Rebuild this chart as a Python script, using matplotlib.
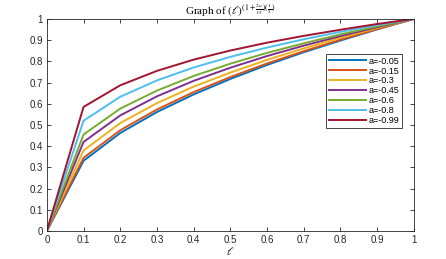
import matplotlib
matplotlib.use('Agg')
import matplotlib.pyplot as plt
import numpy as np

plt.rcParams['mathtext.fontset'] = 'stix'
plt.rcParams['font.family'] = 'Liberation Sans'

x = [0, 0.1, 0.2, 0.3, 0.4, 0.5, 0.6, 0.7, 0.8, 0.9, 1.0]
labels = ['a=-0.05', 'a=-0.15', 'a=-0.3', 'a=-0.45', 'a=-0.6', 'a=-0.8', 'a=-0.99']
y_005 = [0, 0.331, 0.462, 0.561, 0.644, 0.717, 0.783, 0.843, 0.898, 0.951, 1]
y_015 = [0, 0.345, 0.475, 0.573, 0.655, 0.726, 0.790, 0.848, 0.902, 0.952, 1]
y_030 = [0, 0.380, 0.509, 0.603, 0.681, 0.747, 0.807, 0.861, 0.911, 0.957, 1]
y_045 = [0, 0.420, 0.545, 0.635, 0.708, 0.770, 0.825, 0.874, 0.919, 0.961, 1]
y_060 = [0, 0.455, 0.577, 0.662, 0.731, 0.789, 0.840, 0.885, 0.927, 0.965, 1]
y_080 = [0, 0.520, 0.633, 0.710, 0.771, 0.821, 0.865, 0.904, 0.939, 0.971, 1]
y_099 = [0, 0.585, 0.687, 0.755, 0.808, 0.851, 0.888, 0.920, 0.949, 0.976, 1]
series = [y_005, y_015, y_030, y_045, y_060, y_080, y_099]
colors = ['#0072BD', '#D95319', '#EDB120', '#7E2F8E', '#77AC30', '#4DBEEE', '#A2142F']

fig = plt.figure(figsize=(4.46, 2.59), dpi=100)
ax = fig.add_axes([0.105, 0.108, 0.823, 0.819])

for ys, c, lab in zip(series, colors, labels):
    ax.plot(x, ys, color=c, lw=1.4, label=lab)

ax.set_xlim(0, 1)
ax.set_ylim(0, 1)
ax.set_xticks(np.arange(0, 1.01, 0.1))
ax.set_yticks(np.arange(0, 1.01, 0.1))
ax.set_xticklabels(['0', '0.1', '0.2', '0.3', '0.4', '0.5', '0.6', '0.7', '0.8', '0.9', '1'])
ax.set_yticklabels(['0', '0.1', '0.2', '0.3', '0.4', '0.5', '0.6', '0.7', '0.8', '0.9', '1'])
ax.tick_params(direction='in', top=True, right=True, labelsize=7, colors='#262626',
               length=3, width=0.6, pad=3)
for s in ax.spines.values():
    s.set_linewidth(0.6)
    s.set_color('#262626')

ax.set_xlabel(r'$\ell$', fontsize=8, labelpad=0)
ax.set_title(r'Graph of $(\ell)^{(1+\frac{2a}{15})(\frac{1}{2})}$', fontsize=8,
             family='Liberation Serif', pad=3)

leg = ax.legend(loc='upper left', bbox_to_anchor=(0.76, 0.835), fontsize=6.5,
                handlelength=4.2, handletextpad=0.2, borderpad=0.3, labelspacing=0.1,
                fancybox=False, framealpha=1, edgecolor='#262626', borderaxespad=0)
leg.get_frame().set_linewidth(0.6)

fig.savefig('out.png', dpi=100)
